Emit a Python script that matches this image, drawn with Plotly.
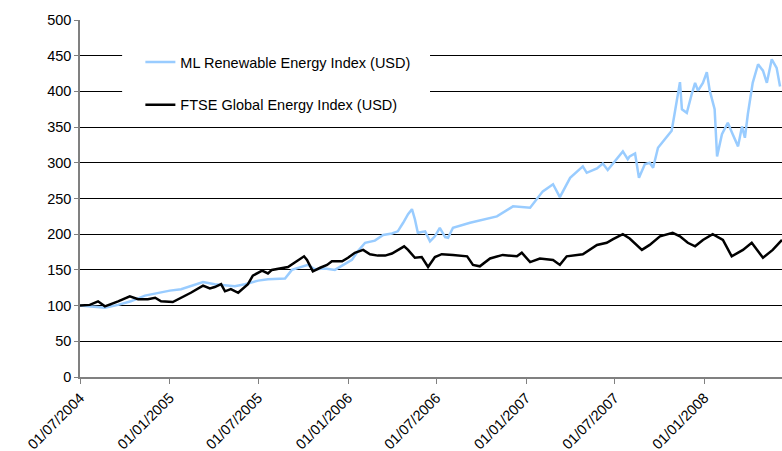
import plotly.graph_objects as go

# Values (index, base 100 on 01/07/2004)
ml_dates = ["2004-07-01", "2004-08-07", "2004-08-21", "2004-09-17", "2004-10-13", "2004-11-11",
            "2004-12-08", "2005-01-01", "2005-01-24", "2005-02-22", "2005-03-10", "2005-04-03",
            "2005-04-24", "2005-05-14", "2005-06-04", "2005-07-01", "2005-07-21", "2005-08-25",
            "2005-09-08", "2005-09-29", "2005-10-11", "2005-10-25", "2005-11-15", "2005-12-05",
            "2005-12-26", "2006-01-09", "2006-01-21", "2006-02-05", "2006-02-25", "2006-03-14",
            "2006-04-01", "2006-04-13", "2006-04-24", "2006-05-04", "2006-05-12", "2006-05-18",
            "2006-05-24", "2006-06-08", "2006-06-18", "2006-06-28", "2006-07-08", "2006-07-19",
            "2006-07-25", "2006-08-04", "2006-09-08", "2006-10-04", "2006-11-02", "2006-12-05",
            "2007-01-09", "2007-02-04", "2007-02-25", "2007-03-11", "2007-04-01", "2007-04-27",
            "2007-05-05", "2007-05-26", "2007-06-07", "2007-06-17", "2007-07-06", "2007-07-18",
            "2007-07-28", "2007-08-01", "2007-08-12", "2007-08-20", "2007-09-01", "2007-09-11",
            "2007-09-18", "2007-09-28", "2007-10-12", "2007-10-26", "2007-11-02", "2007-11-12",
            "2007-11-16", "2007-11-26", "2007-12-06", "2007-12-13", "2007-12-19", "2007-12-29",
            "2008-01-06", "2008-01-12", "2008-01-22", "2008-01-27", "2008-02-06", "2008-02-18",
            "2008-02-28", "2008-03-10", "2008-03-18", "2008-03-24", "2008-03-30", "2008-04-09",
            "2008-04-20", "2008-04-30", "2008-05-08", "2008-05-18", "2008-05-28", "2008-06-04"]
ml_values = [100, 98, 97, 101, 106, 114,
             118, 121, 123, 129, 133, 130,
             128, 127, 130, 135, 137, 138,
             150, 155, 157, 151, 152, 150,
             158, 164, 176, 188, 191, 199,
             201, 204, 216, 228, 235, 221,
             202, 204, 190, 197, 209, 196,
             195, 209, 216, 220, 225, 239,
             237, 260, 270, 252, 279, 295,
             286, 292, 299, 290, 305, 316,
             305, 309, 313, 279, 298, 300,
             293, 321, 333, 345, 373, 413,
             375, 370, 396, 412, 401, 412,
             427, 401, 375, 309, 340, 356,
             340, 323, 351, 335, 368, 412,
             438, 429, 412, 445, 433, 407]

ftse_dates = ["2004-07-01", "2004-07-21", "2004-08-07", "2004-08-21", "2004-09-17", "2004-10-11",
              "2004-10-28", "2004-11-17", "2004-12-02", "2004-12-14", "2005-01-07", "2005-01-24",
              "2005-02-13", "2005-03-10", "2005-03-24", "2005-04-03", "2005-04-16", "2005-04-24",
              "2005-05-06", "2005-05-21", "2005-06-10", "2005-06-20", "2005-07-09", "2005-07-21",
              "2005-07-29", "2005-08-31", "2005-09-14", "2005-10-03", "2005-10-09", "2005-10-21",
              "2005-11-05", "2005-11-19", "2005-11-29", "2005-12-20", "2006-01-01", "2006-01-15",
              "2006-02-01", "2006-02-15", "2006-03-03", "2006-03-18", "2006-04-01", "2006-04-13",
              "2006-04-26", "2006-05-04", "2006-05-18", "2006-06-01", "2006-06-14", "2006-06-28",
              "2006-07-12", "2006-08-04", "2006-09-02", "2006-09-14", "2006-09-28", "2006-10-19",
              "2006-11-14", "2006-12-13", "2006-12-23", "2007-01-09", "2007-01-29", "2007-02-25",
              "2007-03-11", "2007-03-25", "2007-04-27", "2007-05-26", "2007-06-15", "2007-06-28",
              "2007-07-18", "2007-08-01", "2007-08-26", "2007-09-11", "2007-10-02", "2007-10-28",
              "2007-11-12", "2007-11-28", "2007-12-13", "2007-12-29", "2008-01-18", "2008-02-08",
              "2008-02-26", "2008-03-20", "2008-04-07", "2008-04-30", "2008-05-20", "2008-06-08"]
ftse_values = [100, 101, 106, 99, 106, 113,
               109, 109, 111, 106, 105, 111,
               118, 128, 124, 126, 130, 120,
               123, 118, 130, 142, 149, 145,
               150, 154, 160, 169, 164, 148,
               153, 157, 162, 162, 167, 174,
               178, 172, 170, 170, 173, 178,
               183, 178, 167, 168, 154, 168,
               172, 171, 169, 157, 155, 166,
               171, 169, 174, 161, 166, 164,
               157, 169, 172, 185, 188, 193,
               200, 194, 178, 185, 197, 202,
               197, 188, 183, 192, 200, 192,
               169, 178, 188, 167, 178, 192]

tick_dates = ["2004-07-01", "2005-01-01", "2005-07-01", "2006-01-01",
              "2006-07-01", "2007-01-01", "2007-07-01", "2008-01-01"]
tick_labels = ["01/07/2004", "01/01/2005", "01/07/2005", "01/01/2006",
               "01/07/2006", "01/01/2007", "01/07/2007", "01/01/2008"]

fig = go.Figure()

fig.add_trace(go.Scatter(x=ml_dates, y=ml_values, mode="lines",
                         name="ML Renewable Energy Index (USD)", legendgroup="ml",
                         line=dict(color="#99ccff", width=2.5)))
fig.add_trace(go.Scatter(x=ftse_dates, y=ftse_values, mode="lines",
                         name="FTSE Global Energy Index (USD)", legendgroup="ftse",
                         line=dict(color="#000000", width=2.5)))

axis_font = dict(family="Liberation Sans, Arial, sans-serif", size=14.5, color="#000000")

# white box behind the legend, hides the gridlines like in the original
fig.add_shape(type="rect", xref="paper", yref="paper",
              x0=0.06, x1=0.4986, y0=0.74, y1=0.93,
              fillcolor="white", line=dict(width=0), layer="above")

fig.update_layout(
    width=782, height=451,
    margin=dict(l=80, r=0, t=20, b=74),
    paper_bgcolor="white", plot_bgcolor="white",
    font=axis_font,
    legend=dict(x=0.086, y=0.927, xanchor="left", yanchor="top",
                bgcolor="rgba(0,0,0,0)", tracegroupgap=21, font=axis_font,
                itemwidth=30),
    xaxis=dict(range=["2004-07-01", "2008-06-08"], tickvals=tick_dates, ticktext=tick_labels,
               tickangle=-45, showgrid=False, showline=True, linecolor="#808080", linewidth=1.5,
               ticks="outside", ticklen=5, tickcolor="#808080", tickfont=axis_font,
               automargin=False),
    yaxis=dict(range=[0, 500], dtick=50, showgrid=True, gridcolor="#000000", gridwidth=1,
               showline=True, linecolor="#808080", linewidth=1.5, zeroline=False,
               ticks="outside", ticklen=4, tickcolor="#808080", tickfont=axis_font,
               automargin=False),
)

fig.write_html("out.html", config={"displayModeBar": False},
               post_script="document.body.style.margin = '0';")
